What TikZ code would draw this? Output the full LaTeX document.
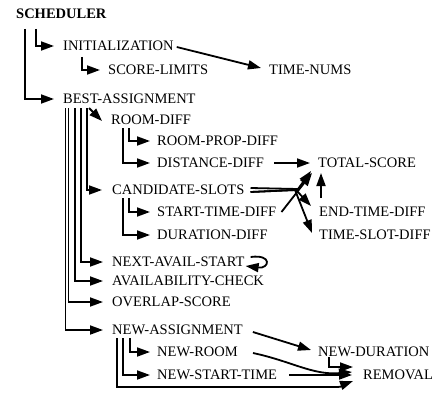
\documentclass[tikz,border=0pt]{standalone}
\usepackage{fontspec}
\setmainfont{Liberation Serif}
\usetikzlibrary{arrows.meta}
\begin{document}
\begin{tikzpicture}[x=1pt,y=-1pt,
  lbl/.style={anchor=west, inner sep=0pt, text height=9.6pt, text depth=0pt, font=\fontsize{14.5}{17}\selectfont},
  arr/.style={line width=1.8pt, -{Triangle[length=13pt,width=9pt]}}]
\useasboundingbox (0,0) rectangle (435,393);
\node[lbl, font=\fontsize{14.5}{17}\selectfont\bfseries] (sched) at (16,14) {SCHEDULER};
\node[lbl] (init) at (63,46) {INITIALIZATION};
\node[lbl] (score) at (108,70) {SCORE-LIMITS};
\node[lbl] (tnums) at (269,70) {TIME-NUMS};
\node[lbl] (best) at (63,99) {BEST-ASSIGNMENT};
\node[lbl] (room) at (111,120) {ROOM-DIFF};
\node[lbl] (rprop) at (157,141) {ROOM-PROP-DIFF};
\node[lbl] (dist) at (157,163) {DISTANCE-DIFF};
\node[lbl] (total) at (318,163) {TOTAL-SCORE};
\node[lbl] (cand) at (112,190) {CANDIDATE-SLOTS};
\node[lbl] (stdiff) at (157,212) {START-TIME-DIFF};
\node[lbl] (etdiff) at (319,212) {END-TIME-DIFF};
\node[lbl] (durdiff) at (157,235) {DURATION-DIFF};
\node[lbl] (tsdiff) at (319,235) {TIME-SLOT-DIFF};
\node[lbl] (next) at (112,262) {NEXT-AVAIL-START};
\node[lbl] (avail) at (112,281) {AVAILABILITY-CHECK};
\node[lbl] (overlap) at (112,302) {OVERLAP-SCORE};
\node[lbl] (newa) at (112,330) {NEW-ASSIGNMENT};
\node[lbl] (newroom) at (157,352) {NEW-ROOM};
\node[lbl] (newdur) at (318,352) {NEW-DURATION};
\node[lbl] (newst) at (157,375) {NEW-START-TIME};
\node[lbl] (removal) at (363,375) {REMOVAL};
% scheduler
\draw[arr] ([xshift=20pt,yshift=-10pt]sched.south west) |- ([xshift=-9pt]init.west);
\draw[arr] ([xshift=9pt,yshift=-10pt]sched.south west) |- ([xshift=-9pt]best.west);
% initialization
\draw[arr] ([xshift=19pt,yshift=-6pt]init.south west) |- ([xshift=-8pt]score.west);
\draw[arr] ([xshift=3pt,yshift=-1pt]init.east) -- ([xshift=-8pt,yshift=2pt]tnums.west);
% best-assignment
\draw[arr] ([xshift=2.5pt,yshift=-4pt]best.south west) |- ([xshift=-9pt]newa.west);
\draw[arr] ([xshift=5.5pt,yshift=-4pt]best.south west) |- ([xshift=-9pt]overlap.west);
\draw[arr] ([xshift=12pt,yshift=-4pt]best.south west) |- ([xshift=-9pt]avail.west);
\draw[arr] ([xshift=18pt,yshift=-4pt]best.south west) |- ([xshift=-9pt]next.west);
\draw[arr] ([xshift=24pt,yshift=-4pt]best.south west) |- ([xshift=-10pt]cand.west);
\draw[arr] ([xshift=26pt,yshift=-4pt]best.south west) -- ([xshift=-9pt,yshift=-1pt]room.west);
% room-diff
\draw[arr] ([xshift=18pt,yshift=-3pt]room.south west) |- ([xshift=-7pt]rprop.west);
\draw[arr] ([xshift=12pt,yshift=-3pt]room.south west) |- ([xshift=-7pt]dist.west);
\draw[arr] ([xshift=10pt]dist.east) -- ([xshift=-8pt]total.west);
% candidate-slots
\draw[arr] ([xshift=17pt,yshift=-3pt]cand.south west) |- ([xshift=-7pt]stdiff.west);
\draw[arr] ([xshift=11pt,yshift=-3pt]cand.south west) |- ([xshift=-7pt]durdiff.west);
\draw[arr] ([xshift=6pt,yshift=2pt]cand.east) -- ([xshift=-20pt,yshift=-26pt]total.west) -- ([xshift=-7pt,yshift=-8pt]total.west);
\draw[arr] ([xshift=6pt,yshift=-2pt]cand.east) -- ([xshift=-23pt,yshift=22pt]etdiff.west) -- ([xshift=-8pt,yshift=6pt]etdiff.west);
\draw[arr] ([xshift=6pt,yshift=-2pt]cand.east) -- ([xshift=-24pt,yshift=45pt]tsdiff.west) -- ([xshift=-7pt,yshift=2pt]tsdiff.west);
\draw[arr] ([xshift=5pt]stdiff.east) -- ([xshift=-6pt,yshift=-10pt]total.west);
\draw[arr] ([xshift=2pt,yshift=9pt]etdiff.north west) -- ([xshift=3pt,yshift=-10pt]total.west);
% next-avail-start loop
\draw[arr] ([xshift=6pt,yshift=5pt]next.east) .. controls +(22,-3) and +(24,3) .. ([xshift=1pt,yshift=-4pt]next.east);
% new-assignment
\draw[arr] ([xshift=18pt,yshift=-3pt]newa.south west) |- ([xshift=-7pt]newroom.west);
\draw[arr] ([xshift=11pt,yshift=-3pt]newa.south west) |- ([xshift=-7pt]newst.west);
\draw[arr] ([xshift=5pt,yshift=-3pt]newa.south west) |- ([xshift=-25pt,yshift=-12pt]removal.west) to[out=0,in=200] ([xshift=-10pt,yshift=-6pt]removal.west);
\draw[arr] ([xshift=10pt,yshift=-2pt]newa.east) -- ([xshift=-7pt,yshift=2pt]newdur.west);
\draw[arr] ([xshift=15pt,yshift=-1pt]newroom.east) to[out=-12,in=185] ([xshift=-11pt,yshift=3pt]removal.west);
\draw[arr] ([xshift=12pt]newst.east) -- ([xshift=-11pt]removal.west);
\draw[arr] ([xshift=11pt]newdur.south west) |- ([xshift=-10pt,yshift=8pt]removal.west);
\end{tikzpicture}
\end{document}
